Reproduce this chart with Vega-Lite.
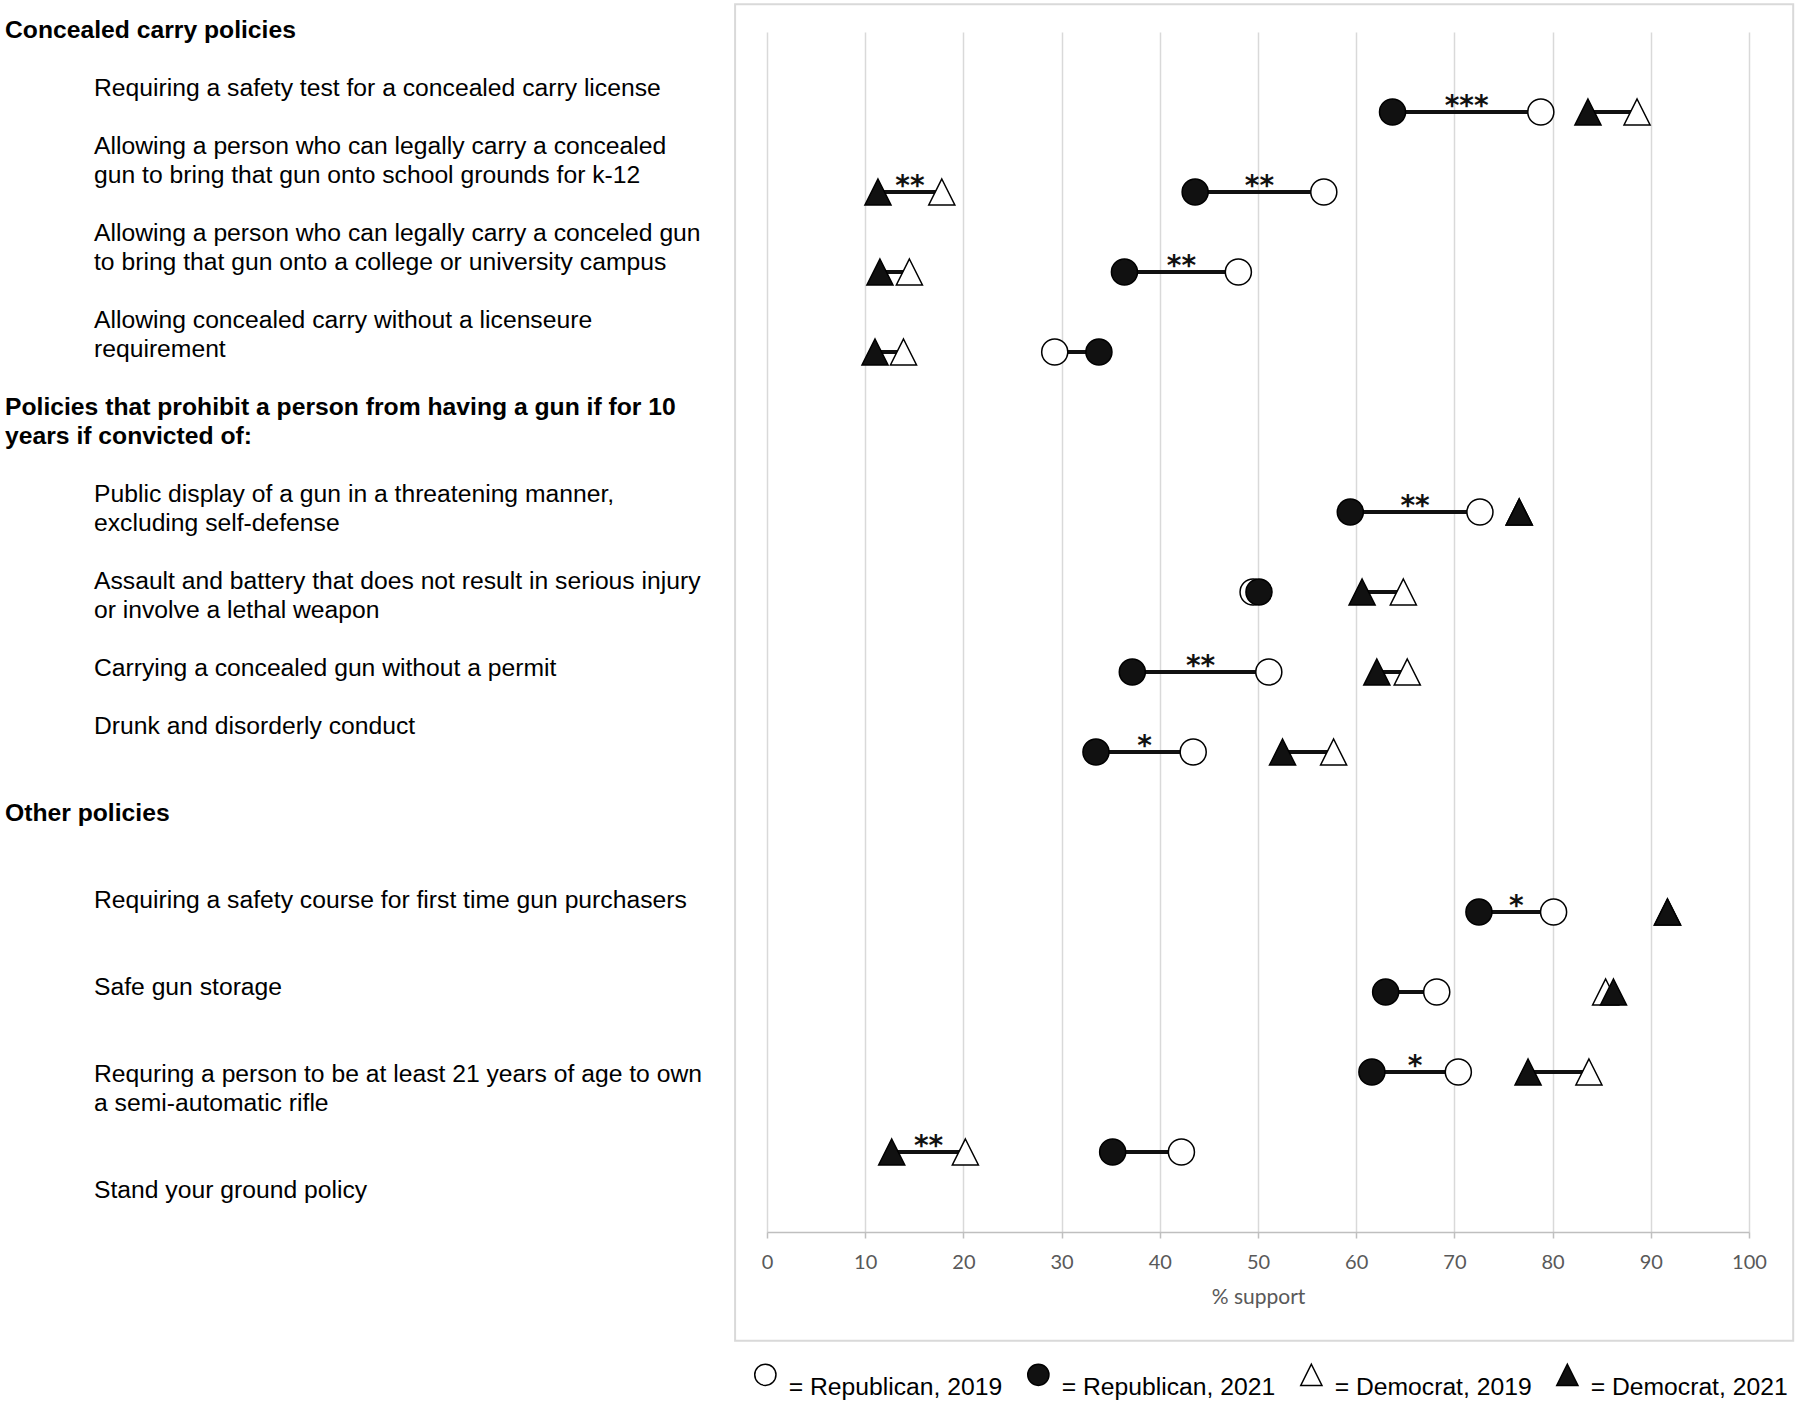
{
  "$schema": "https://vega.github.io/schema/vega-lite/v6.json",
  "background": "white",
  "padding": {"left": 5, "top": 3, "right": 5, "bottom": 5},
  "bounds": "flush",
  "spacing": 62,
  "config": {
    "view": {"stroke": null},
    "font": "Liberation Sans",
    "axisX": {
      "grid": true,
      "domainColor": "#bfbfbf", "domainWidth": 1.5,
      "tickColor": "#bfbfbf", "tickWidth": 1.5, "tickSize": 6, "tickCount": 10,
      "gridColor": "#d9d9d9", "gridWidth": 1.5,
      "labelFont": "Lato", "labelFontSize": 20, "labelColor": "#595959", "labelPadding": 14, "labelFlush": false,
      "titleFont": "Lato", "titleFontSize": 21, "titleFontWeight": "normal", "titleColor": "#595959", "titlePadding": 14
    }
  },
  "datasets": {
    "labels": [
      {"line": 0, "kind": "header", "text": "Concealed carry policies"},
      {"line": 2, "kind": "item", "text": "Requiring a safety test for a concealed carry license"},
      {"line": 4, "kind": "item", "text": "Allowing a person who can legally carry a concealed"},
      {"line": 5, "kind": "item", "text": "gun to bring that gun onto school grounds for k-12"},
      {"line": 7, "kind": "item", "text": "Allowing a person who can legally carry a conceled gun"},
      {"line": 8, "kind": "item", "text": "to bring that gun onto a college or university campus"},
      {"line": 10, "kind": "item", "text": "Allowing concealed carry without a licenseure"},
      {"line": 11, "kind": "item", "text": "requirement"},
      {"line": 13, "kind": "header", "text": "Policies that prohibit a person from having a gun if for 10"},
      {"line": 14, "kind": "header", "text": "years if convicted of:"},
      {"line": 16, "kind": "item", "text": "Public display of a gun in a threatening manner,"},
      {"line": 17, "kind": "item", "text": "excluding self-defense"},
      {"line": 19, "kind": "item", "text": "Assault and battery that does not result in serious injury"},
      {"line": 20, "kind": "item", "text": "or involve a lethal weapon"},
      {"line": 22, "kind": "item", "text": "Carrying a concealed gun without a permit"},
      {"line": 24, "kind": "item", "text": "Drunk and disorderly conduct"},
      {"line": 27, "kind": "header", "text": "Other policies"},
      {"line": 30, "kind": "item", "text": "Requiring a safety course for first time gun purchasers"},
      {"line": 33, "kind": "item", "text": "Safe gun storage"},
      {"line": 36, "kind": "item", "text": "Requring a person to be at least 21 years of age to own"},
      {"line": 37, "kind": "item", "text": "a semi-automatic rifle"},
      {"line": 40, "kind": "item", "text": "Stand your ground policy"}
    ],
    "support": [
      {"row": 1, "party": "R", "series": "Republican, 2019", "v": 78.8, "sig": "***"},
      {"row": 1, "party": "R", "series": "Republican, 2021", "v": 63.7, "sig": "***"},
      {"row": 1, "party": "D", "series": "Democrat, 2019", "v": 88.6, "sig": ""},
      {"row": 1, "party": "D", "series": "Democrat, 2021", "v": 83.6, "sig": ""},
      {"row": 2, "party": "R", "series": "Republican, 2019", "v": 56.7, "sig": "**"},
      {"row": 2, "party": "R", "series": "Republican, 2021", "v": 43.6, "sig": "**"},
      {"row": 2, "party": "D", "series": "Democrat, 2019", "v": 17.8, "sig": "**"},
      {"row": 2, "party": "D", "series": "Democrat, 2021", "v": 11.3, "sig": "**"},
      {"row": 3, "party": "R", "series": "Republican, 2019", "v": 48.0, "sig": "**"},
      {"row": 3, "party": "R", "series": "Republican, 2021", "v": 36.4, "sig": "**"},
      {"row": 3, "party": "D", "series": "Democrat, 2019", "v": 14.5, "sig": ""},
      {"row": 3, "party": "D", "series": "Democrat, 2021", "v": 11.5, "sig": ""},
      {"row": 4, "party": "R", "series": "Republican, 2019", "v": 29.3, "sig": ""},
      {"row": 4, "party": "R", "series": "Republican, 2021", "v": 33.8, "sig": ""},
      {"row": 4, "party": "D", "series": "Democrat, 2019", "v": 13.9, "sig": ""},
      {"row": 4, "party": "D", "series": "Democrat, 2021", "v": 11.0, "sig": ""},
      {"row": 6, "party": "R", "series": "Republican, 2019", "v": 72.6, "sig": "**"},
      {"row": 6, "party": "R", "series": "Republican, 2021", "v": 59.4, "sig": "**"},
      {"row": 6, "party": "D", "series": "Democrat, 2019", "v": 76.6, "sig": ""},
      {"row": 6, "party": "D", "series": "Democrat, 2021", "v": 76.6, "sig": ""},
      {"row": 7, "party": "R", "series": "Republican, 2019", "v": 49.5, "sig": ""},
      {"row": 7, "party": "R", "series": "Republican, 2021", "v": 50.1, "sig": ""},
      {"row": 7, "party": "D", "series": "Democrat, 2019", "v": 64.8, "sig": ""},
      {"row": 7, "party": "D", "series": "Democrat, 2021", "v": 60.6, "sig": ""},
      {"row": 8, "party": "R", "series": "Republican, 2019", "v": 51.1, "sig": "**"},
      {"row": 8, "party": "R", "series": "Republican, 2021", "v": 37.2, "sig": "**"},
      {"row": 8, "party": "D", "series": "Democrat, 2019", "v": 65.2, "sig": ""},
      {"row": 8, "party": "D", "series": "Democrat, 2021", "v": 62.1, "sig": ""},
      {"row": 9, "party": "R", "series": "Republican, 2019", "v": 43.4, "sig": "*"},
      {"row": 9, "party": "R", "series": "Republican, 2021", "v": 33.5, "sig": "*"},
      {"row": 9, "party": "D", "series": "Democrat, 2019", "v": 57.7, "sig": ""},
      {"row": 9, "party": "D", "series": "Democrat, 2021", "v": 52.5, "sig": ""},
      {"row": 11, "party": "R", "series": "Republican, 2019", "v": 80.1, "sig": "*"},
      {"row": 11, "party": "R", "series": "Republican, 2021", "v": 72.5, "sig": "*"},
      {"row": 11, "party": "D", "series": "Democrat, 2019", "v": 91.7, "sig": ""},
      {"row": 11, "party": "D", "series": "Democrat, 2021", "v": 91.7, "sig": ""},
      {"row": 12, "party": "R", "series": "Republican, 2019", "v": 68.2, "sig": ""},
      {"row": 12, "party": "R", "series": "Republican, 2021", "v": 63.0, "sig": ""},
      {"row": 12, "party": "D", "series": "Democrat, 2019", "v": 85.4, "sig": ""},
      {"row": 12, "party": "D", "series": "Democrat, 2021", "v": 86.2, "sig": ""},
      {"row": 13, "party": "R", "series": "Republican, 2019", "v": 70.4, "sig": "*"},
      {"row": 13, "party": "R", "series": "Republican, 2021", "v": 61.6, "sig": "*"},
      {"row": 13, "party": "D", "series": "Democrat, 2019", "v": 83.7, "sig": ""},
      {"row": 13, "party": "D", "series": "Democrat, 2021", "v": 77.5, "sig": ""},
      {"row": 14, "party": "R", "series": "Republican, 2019", "v": 42.2, "sig": ""},
      {"row": 14, "party": "R", "series": "Republican, 2021", "v": 35.2, "sig": ""},
      {"row": 14, "party": "D", "series": "Democrat, 2019", "v": 20.2, "sig": "**"},
      {"row": 14, "party": "D", "series": "Democrat, 2021", "v": 12.7, "sig": "**"}
    ]
  },
  "hconcat": [
    {
      "width": 700,
      "height": 1200,
      "data": {"name": "labels"},
      "encoding": {
        "x": {"field": "kind", "type": "nominal", "scale": {"type": "point", "domain": ["header", "item"], "range": [0, 89], "padding": 0}, "axis": null},
        "y": {"field": "line", "type": "quantitative", "scale": {"domain": [0.046, 41.42], "reverse": true, "nice": false, "zero": false}, "axis": null},
        "text": {"field": "text"}
      },
      "layer": [
        {
          "transform": [{"filter": "datum.kind === 'header'"}],
          "mark": {"type": "text", "align": "left", "baseline": "middle", "fontSize": 24.7, "fontWeight": "bold", "color": "#000"}
        },
        {
          "transform": [{"filter": "datum.kind === 'item'"}],
          "mark": {"type": "text", "align": "left", "baseline": "middle", "fontSize": 24.7, "color": "#000"}
        }
      ]
    },
    {
      "width": 982,
      "height": 1200,
      "data": {"name": "support"},
      "layer": [
        {
          "data": {"values": [{}]},
          "mark": {"type": "rect", "fill": "transparent", "stroke": "#d9d9d9", "strokeWidth": 2, "clip": false},
          "encoding": {
            "x": {"datum": -3.25, "type": "quantitative", "title": "% support", "scale": {"domain": [0, 100], "nice": false, "zero": false}, "axis": {"grid": true}},
            "x2": {"datum": 104.5},
            "y": {"datum": -0.346, "type": "quantitative", "axis": null, "scale": {"domain": [0, 15], "reverse": true, "nice": false, "zero": false}},
            "y2": {"datum": 16.36}
          }
        },
        {
          "mark": {"type": "line", "color": "#111", "strokeWidth": 4},
          "encoding": {
            "x": {"field": "v", "type": "quantitative", "title": "% support", "axis": {"grid": true}},
            "y": {"field": "row", "type": "quantitative", "axis": null},
            "detail": [{"field": "row", "type": "nominal"}, {"field": "party", "type": "nominal"}]
          }
        },
        {
          "mark": {"type": "point", "size": 680, "stroke": "#000", "strokeWidth": 1.5, "opacity": 1, "filled": true},
          "encoding": {
            "x": {"field": "v", "type": "quantitative", "title": "% support", "axis": {"grid": true}},
            "y": {"field": "row", "type": "quantitative", "axis": null},
            "shape": {
              "field": "series", "type": "nominal",
              "scale": {"domain": ["Republican, 2019", "Republican, 2021", "Democrat, 2019", "Democrat, 2021"], "range": ["circle", "circle", "M0,-1L1,1L-1,1Z", "M0,-1L1,1L-1,1Z"]},
              "legend": {
                "title": null, "orient": "none", "legendX": 748, "legendY": 1330, "direction": "horizontal",
                "symbolSize": 450, "symbolStrokeColor": "#000", "symbolStrokeWidth": 1.5, "symbolOpacity": 1,
                "labelFontSize": 24.7, "labelFont": "Liberation Sans", "labelColor": "#000", "labelBaseline": "top",
                "labelOffset": 11, "columnPadding": 21, "padding": 0, "labelLimit": 400,
                "labelExpr": "'= ' + datum.label",
                "encode": {"symbols": {"update": {"stroke": {"value": "#000"}, "strokeWidth": {"value": 1.5}, "opacity": {"value": 1}}}}
              }
            },
            "fill": {
              "field": "series", "type": "nominal",
              "scale": {"domain": ["Republican, 2019", "Republican, 2021", "Democrat, 2019", "Democrat, 2021"], "range": ["#ffffff", "#111111", "#ffffff", "#111111"]},
              "legend": {
                "title": null, "orient": "none", "legendX": 748, "legendY": 1330, "direction": "horizontal",
                "symbolSize": 450, "symbolStrokeColor": "#000", "symbolStrokeWidth": 1.5, "symbolOpacity": 1,
                "labelFontSize": 24.7, "labelFont": "Liberation Sans", "labelColor": "#000", "labelBaseline": "top",
                "labelOffset": 11, "columnPadding": 21, "padding": 0, "labelLimit": 400,
                "labelExpr": "'= ' + datum.label",
                "encode": {"symbols": {"update": {"stroke": {"value": "#000"}, "strokeWidth": {"value": 1.5}, "opacity": {"value": 1}}}}
              }
            }
          }
        },
        {
          "transform": [
            {"filter": "datum.sig != ''"},
            {"aggregate": [{"op": "mean", "field": "v", "as": "mid"}], "groupby": ["row", "party", "sig"]}
          ],
          "mark": {"type": "text", "font": "DejaVu Sans", "fontSize": 28, "fontWeight": "bold", "baseline": "alphabetic", "align": "center", "dy": 3, "color": "#111"},
          "encoding": {
            "x": {"field": "mid", "type": "quantitative", "title": "% support", "axis": {"grid": true}},
            "y": {"field": "row", "type": "quantitative", "axis": null},
            "text": {"field": "sig"}
          }
        }
      ]
    }
  ]
}
